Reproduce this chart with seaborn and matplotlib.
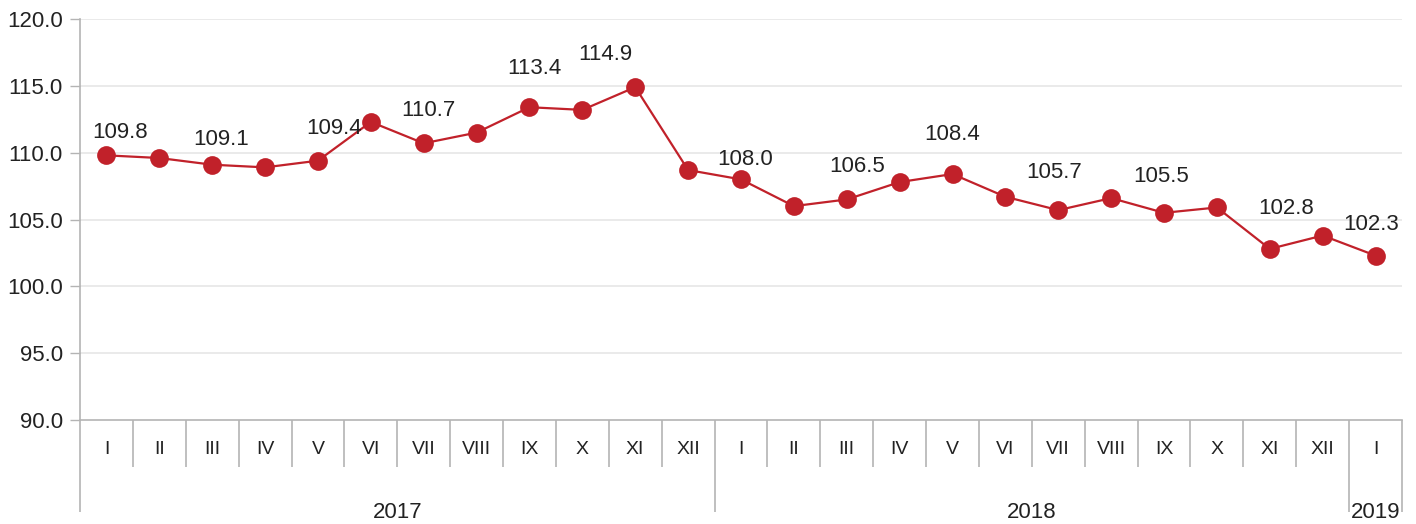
import matplotlib
matplotlib.use("Agg")
import matplotlib.pyplot as plt
import matplotlib.transforms as mtransforms
import seaborn as sns
import pandas as pd

# data
months = ['I', 'II', 'III', 'IV', 'V', 'VI', 'VII', 'VIII', 'IX', 'X', 'XI', 'XII',
          'I', 'II', 'III', 'IV', 'V', 'VI', 'VII', 'VIII', 'IX', 'X', 'XI', 'XII',
          'I']
years = ['2017', '2018', '2019']
months_per_year = [12, 12, 1]
values = [109.8, 109.6, 109.1, 108.9, 109.4, 112.3, 110.7, 111.5, 113.4, 113.2, 114.9, 108.7,
          108.0, 106.0, 106.5, 107.8, 108.4, 106.7, 105.7, 106.6, 105.5, 105.9, 102.8, 103.8,
          102.3]
y_ticks = [90.0, 95.0, 100.0, 105.0, 110.0, 115.0, 120.0]

# label placement (pixel offsets from the point) for every other point
label_offsets = {0: (14, 23), 2: (9, 25), 4: (16, 32), 6: (5, 33), 8: (5, 39),
                 10: (-30, 33), 12: (4, 20), 14: (10, 33), 16: (0, 40),
                 18: (-4, 38), 20: (-3, 36), 22: (16, 40), 24: (-4, 31)}

RED = '#c1212a'
TEXT = '#222222'
AXIS = '#b4b4b4'
GRID = '#e6e6e6'

sns.set_theme(style="white")
plt.rcParams['font.family'] = ['Liberation Sans', 'DejaVu Sans']

df = pd.DataFrame({'pos': range(len(values)), 'value': values})

fig = plt.figure(figsize=(14.16, 5.24), dpi=100)
ax = fig.add_axes([80 / 1416, 104 / 524, 1322 / 1416, 401 / 524])

sns.lineplot(data=df, x='pos', y='value', ax=ax, color=RED, linewidth=1.6,
             marker='o', markersize=13.5, markeredgewidth=0, zorder=3)

ax.set_xlim(-0.5, len(values) - 0.5)
ax.set_ylim(90, 120)
ax.set_yticks(y_ticks)
ax.set_yticklabels([f'{t:.1f}' for t in y_ticks])
ax.tick_params(axis='y', length=7, width=1, color=AXIS, pad=5.5,
               labelsize=16, labelcolor=TEXT, left=True)
ax.set_xticks([])
ax.set_xlabel('')
ax.set_ylabel('')
ax.grid(False)
for y in y_ticks[1:]:
    ax.axhline(y, color=GRID, linewidth=1.2, zorder=0)

for side in ['top', 'right']:
    ax.spines[side].set_visible(False)
ax.spines['left'].set_color(AXIS)
ax.spines['bottom'].set_color(AXIS)
ax.spines['left'].set_linewidth(1.2)
ax.spines['bottom'].set_linewidth(1.2)

# data labels
for i, (dx, dy) in label_offsets.items():
    ax.annotate(f'{values[i]:.1f}', (i, values[i]), xytext=(dx * 0.72, dy * 0.72),
                textcoords='offset points', ha='center', va='center',
                fontsize=16, color=TEXT)

# two-level category axis
trans = mtransforms.blended_transform_factory(ax.transData, ax.transAxes)
month_y = -29 / 401
sep_short = -47 / 401
sep_long = -92 / 401

for i, m in enumerate(months):
    ax.text(i, month_y, m, transform=trans, ha='center', va='center',
            fontsize=14, color=TEXT)

year_bounds = [-0.5]
for n in months_per_year:
    year_bounds.append(year_bounds[-1] + n)

for k in range(len(months) + 1):
    x = k - 0.5
    bottom = sep_long if x in year_bounds else sep_short
    ax.plot([x, x], [0, bottom], transform=trans, color=AXIS, linewidth=1.2,
            clip_on=False, solid_capstyle='butt')

for j, yr in enumerate(years):
    center = (year_bounds[j] + year_bounds[j + 1]) / 2
    ax.text(center, sep_long, yr, transform=trans, ha='center', va='center',
            fontsize=16, color=TEXT)

fig.savefig('out.png', dpi=100)
